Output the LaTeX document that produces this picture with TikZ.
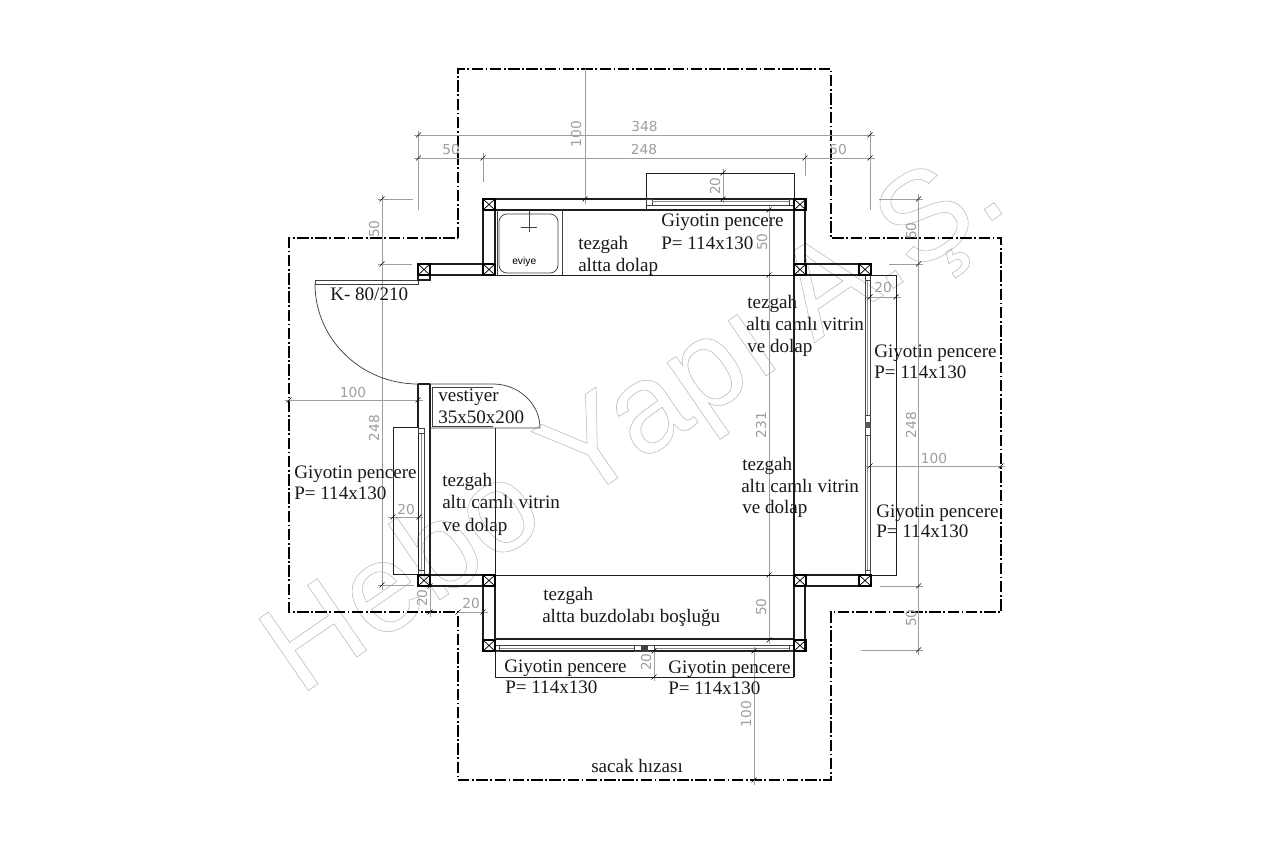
\documentclass[tikz,border=0pt]{standalone}
\usepackage{fontspec}
\setmainfont{Liberation Serif}
\newfontfamily\wmfont{Liberation Sans}
\newfontfamily\dimfont{DejaVu Sans}
\newfontfamily\sinkfont{Liberation Sans}
\definecolor{wallc}{gray}{0.12}
\definecolor{dimc}{gray}{0.62}
\definecolor{dimt}{gray}{0.62}
\tikzset{
  wall/.style={draw=wallc,line width=1.0pt},
  thinw/.style={draw=wallc,line width=0.6pt},
  frame/.style={draw=black!75,line width=0.55pt},
  glass/.style={draw=black!45,line width=0.55pt},
  eaves/.style={draw=black,line width=0.8pt,dash pattern=on 8.6pt off 1.9pt on 1.3pt off 1.9pt},
  dimline/.style={draw=dimc,line width=0.6pt},
  tickm/.style={draw=black,line width=0.5pt},
  lbl/.style={font=\fontsize{14.3}{17}\selectfont,anchor=base west,inner sep=0pt,text=black!90},
  dimlbl/.style={font=\dimfont\fontsize{10.3}{11}\selectfont,inner sep=0pt,text=dimt},
  postb/.style={draw=black,line width=0.8pt}
}
\newcommand{\postat}[2]{%
  \draw[postb] (#1,#2) rectangle (#1+12,#2+11);
  \draw[draw=black,line width=0.55pt] (#1,#2) -- (#1+12,#2+11) (#1+12,#2) -- (#1,#2+11);}
\newcommand{\tickat}[2]{\draw[tickm] (#1-2.5,#2+2.5) -- (#1+2.5,#2-2.5);}
\begin{document}
\begin{tikzpicture}[x=0.75pt,y=-0.75pt]
\useasboundingbox (0,0) rectangle (1280,852);
\fill[white] (0,0) rectangle (1280,852);
% watermark
\node[rotate=34.5,anchor=base west,inner sep=0pt,font=\wmfont\fontsize{95}{100}\selectfont] (wm) at (299.5,696.5)
  {\special{pdf:code q 1 Tr 0.4 w 0.72 0.72 0.72 RG}Hebo Yapı A.Ş.\special{pdf:code Q}};
% eaves
\draw[eaves] (458,238) -- (458,69) -- (831,69) -- (831,238) -- (1001,238) -- (1001,612) -- (831,612) -- (831,780) -- (458,780) -- (458,612) -- (289,612) -- (289,238) -- cycle;
% dimension lines
\draw[dimline] (414,135) -- (875,135);
\draw[dimline] (414,158) -- (875,158);
\draw[dimline] (418.5,131) -- (418.5,210);
\draw[dimline] (870,131) -- (870,210);
\draw[dimline] (483,153) -- (483,182);
\draw[dimline] (805,153) -- (805,176);
\draw[dimline] (585,69) -- (585,204);
\draw[dimline] (723,169) -- (723,203);
\draw[dimline] (769,206) -- (769,644);
\draw[dimline] (382,195) -- (382,590);
\draw[dimline] (378,199) -- (413,199);
\draw[dimline] (378,264) -- (412,264);
\draw[dimline] (378,585) -- (414,585);
\draw[dimline] (285,400) -- (423,400);
\draw[dimline] (388,517) -- (423,517);
\draw[dimline] (430,586) -- (430,617);
\draw[dimline] (458,612) -- (488,612);
\draw[dimline] (654,647) -- (654,681);
\draw[dimline] (754,647) -- (754,785);
\draw[dimline] (866,297) -- (901,297);
\draw[dimline] (866,466) -- (1005,466);
\draw[dimline] (918.5,194) -- (918.5,655);
\draw[dimline] (879,199) -- (923,199);
\draw[dimline] (889,264) -- (923,264);
\draw[dimline] (880,586) -- (923,586);
\draw[dimline] (861,650) -- (923,650);
% walls
\draw[wall] (483,199) -- (794,199) (805,199) -- (805,264) -- (859,264);
\draw[wall] (495,210) -- (805,210);
\draw[wall] (483,199) -- (483,264) (495,199) -- (495,275);
\draw[wall] (430,264) -- (483,264) (430,275) -- (495,275);
\draw[thinw] (495,275) -- (896,275) -- (896,575) -- (794,575);
\draw[wall] (794,199) -- (794,677);
\draw[thinw] (495,428) -- (495,575);
\draw[thinw] (495,575) -- (794,575);
\draw[wall] (805,275) -- (859,275) (805,575) -- (859,575) (805,586) -- (859,586);
\draw[wall] (805,586) -- (805,651) (483,586) -- (483,651) (495,586) -- (495,639);
\draw[wall] (430,575) -- (495,575) (430,586) -- (483,586);
\draw[wall] (430,384) -- (430,586);
\draw[wall] (418,384) -- (418,428) (418,384) -- (430,384);
\draw[thinw] (393,427) -- (418,427) (393,427) -- (393,574) -- (418,574);
% left window
\draw[wall] (418.5,428) -- (418.5,575);
\draw[glass] (421.5,433) -- (421.5,570);
\draw[frame] (424,428) -- (424,575) (418.5,428) rectangle (424,433) (418.5,570) rectangle (424,575);
% right window
\draw[frame] (865,275) -- (865,575) (870,275) -- (870,575);
\draw[glass] (867.5,280) -- (867.5,415) (867.5,435) -- (867.5,570);
\draw[frame] (865,275) rectangle (870,280) (865,570) rectangle (870,575) (865,415) rectangle (870,435);
\fill[black!65] (865,422) rectangle (870,428);
% top window
\draw[thinw] (646,173) -- (794,173) -- (794,199) (646,173) -- (646,210);
\draw[frame] (646,199) rectangle (652,205) (789,199) rectangle (794,205);
\draw[glass] (652,201.5) -- (789,201.5);
\draw[frame] (652,205) -- (789,205);
% bottom window
\draw[wall] (495,639) -- (794,639) (483,651) -- (805,651);
\draw[frame] (495,645) -- (794,645);
\draw[glass] (499,648) -- (634,648) (654,648) -- (789,648);
\draw[frame] (495,645) rectangle (499,651) (789,645) rectangle (794,651) (634,645) rectangle (654,651);
\fill[black!75] (641,645.5) rectangle (648,650.5);
\draw[thinw] (495,651) -- (495,677) -- (794,677);
% door
\draw[frame] (418,280) -- (315,280) -- (315,284) -- (418,284) -- cycle;
\draw[wall] (418,275) -- (418,280) -- (430,280) -- (430,275);
\draw[frame] (315,284) .. controls (315,339) and (361,384) .. (418,384);
% vestiyer
\draw[frame] (430,384) -- (493,384) .. controls (519,384) and (540,404) .. (540,428) -- (430,428);
\draw[frame] (432,426) -- (432,387) -- (493,387) (432,426) -- (493,426);
% corner posts
\postat{483}{199} \postat{483}{264} \postat{418}{264}
\postat{794}{199} \postat{794}{264} \postat{859}{264}
\postat{418}{575} \postat{483}{575} \postat{794}{575} \postat{859}{575}
\postat{483}{640} \postat{794}{640}
% counter and sink
\draw[frame] (497,210) -- (497,275) (562,210) -- (562,275);
\draw[frame] (499,214) [rounded corners=6] -- (558,214) -- (558,273) -- (499,273) -- cycle;
\draw[frame] (529,211) -- (529,232) (521,227) -- (537,227);
\node[font=\sinkfont\fontsize{7.7}{9}\selectfont,inner sep=0pt,anchor=base west] (eviye) at (512,264) {eviye};
% ticks
\tickat{418.5}{135} \tickat{870}{135}
\tickat{418.5}{158} \tickat{483}{158} \tickat{805}{158} \tickat{870}{158}
\tickat{585}{199} \tickat{723}{173} \tickat{723}{199}
\tickat{769}{210} \tickat{769}{275} \tickat{769}{575} \tickat{769}{640}
\tickat{382}{199} \tickat{382}{264} \tickat{382}{585}
\tickat{289}{400} \tickat{418}{400}
\tickat{393}{517} \tickat{419}{517}
\tickat{430}{586} \tickat{430}{612}
\tickat{458}{612} \tickat{483}{612}
\tickat{654}{651} \tickat{654}{677}
\tickat{754}{651} \tickat{754}{780}
\tickat{870}{297} \tickat{896}{297}
\tickat{870}{466} \tickat{1001}{466}
\tickat{918.5}{199} \tickat{918.5}{264} \tickat{918.5}{586} \tickat{918.5}{650}
% dimension labels
\node[dimlbl] (d348) at (644.5,127) {348};
\node[dimlbl] (d248t) at (644,150) {248};
\node[dimlbl] (d50a) at (451,150) {50};
\node[dimlbl] (d50b) at (838,150) {50};
\node[dimlbl,rotate=90] (d100t) at (576,134) {100};
\node[dimlbl,rotate=90] (d20t) at (715,186) {20};
\node[dimlbl,rotate=90] (d50c) at (762,242) {50};
\node[dimlbl,rotate=90] (d231) at (761,425) {231};
\node[dimlbl,rotate=90] (d50d) at (761,607) {50};
\node[dimlbl,rotate=90] (d50e) at (374,229) {50};
\node[dimlbl,rotate=90] (d248l) at (374,428) {248};
\node[dimlbl] (d100l) at (353,392) {100};
\node[dimlbl] (d20l) at (406,509) {20};
\node[dimlbl,rotate=90] (d20m) at (422,598) {20};
\node[dimlbl] (d20n) at (471,603) {20};
\node[dimlbl,rotate=90] (d20b) at (646,662) {20};
\node[dimlbl,rotate=90] (d100b) at (746,714) {100};
\node[dimlbl] (d20r) at (883,288) {20};
\node[dimlbl] (d100r) at (934,458) {100};
\node[dimlbl,rotate=90] (d50f) at (911,231) {50};
\node[dimlbl,rotate=90] (d248r) at (911,425) {248};
\node[dimlbl,rotate=90] (d50g) at (911,618) {50};
% labels
\node[lbl] (a1) at (578,249) {tezgah};
\node[lbl] (a2) at (578,271) {altta dolap};
\node[lbl] (b1) at (661,227) {Giyotin pencere};
\node[lbl] (b2) at (661,249) {P= 114x130};
\node[lbl] (c1) at (747,308) {tezgah};
\node[lbl] (c2) at (746,330) {altı camlı vitrin};
\node[lbl] (c3) at (747,352) {ve dolap};
\node[lbl] (k) at (330,300) {K- 80/210};
\node[lbl] (v1) at (438,401) {vestiyer};
\node[lbl] (v2) at (438,423) {35x50x200};
\node[lbl] (e1) at (294,478) {Giyotin pencere};
\node[lbl] (e2) at (294,499.5) {P= 114x130};
\node[lbl] (f1) at (442,486) {tezgah};
\node[lbl] (f2) at (442,508) {altı camlı vitrin};
\node[lbl] (f3) at (442,531) {ve dolap};
\node[lbl] (g1) at (742,470) {tezgah};
\node[lbl] (g2) at (741,492) {altı camlı vitrin};
\node[lbl] (g3) at (742,513) {ve dolap};
\node[lbl] (h1) at (874,357) {Giyotin pencere};
\node[lbl] (h2) at (874,378) {P= 114x130};
\node[lbl] (i1) at (876,517) {Giyotin pencere};
\node[lbl] (i2) at (876,537) {P= 114x130};
\node[lbl] (j1) at (543,600) {tezgah};
\node[lbl] (j2) at (542,622) {altta buzdolabı boşluğu};
\node[lbl] (m1) at (504,672) {Giyotin pencere};
\node[lbl] (m2) at (505,693) {P= 114x130};
\node[lbl] (n1) at (668,673) {Giyotin pencere};
\node[lbl] (n2) at (668,694) {P= 114x130};
\node[lbl] (s) at (591,772) {sacak hızası};
\end{tikzpicture}
\end{document}
